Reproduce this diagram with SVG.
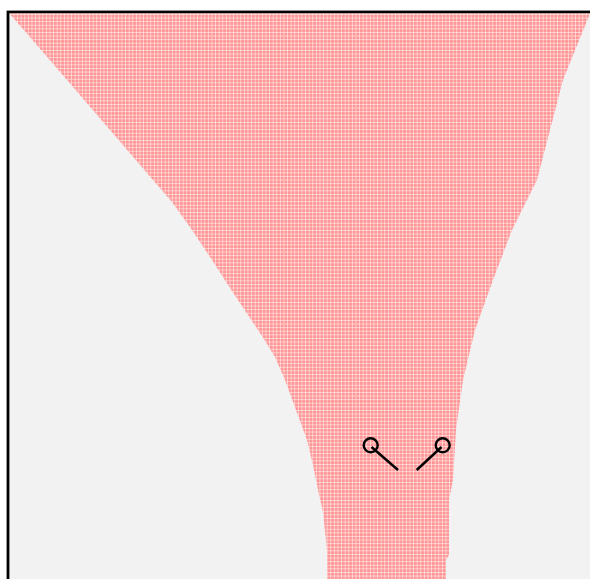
<svg xmlns="http://www.w3.org/2000/svg" width="590" height="579" viewBox="0 0 590 579">
  <defs>
    <pattern id="grid" x="0" y="0.5" width="3.6" height="3.6" patternUnits="userSpaceOnUse">
      <rect width="3.6" height="3.6" fill="#ff9595"/>
      <rect x="2.9" y="0" width="0.7" height="3.6" fill="#ffffff" fill-opacity="0.7"/>
      <rect x="0" y="2.9" width="3.6" height="0.7" fill="#ffffff" fill-opacity="0.7"/>
    </pattern>
    <style>
      .probe { fill: none; stroke: #000; stroke-width: 2.4; }
    </style>
  </defs>
  <rect x="0" y="0" width="590" height="579" fill="#ffffff"/>
  <rect x="8" y="12" width="600" height="600" fill="#f2f2f2" stroke="#000" stroke-width="2.8"/>
  <g id="funnel">
    <path d="M9.5,13.5 L67,80 L110,130 L153,180 L172,202 L192,230 L212,260 L230,288 L246,312 L262,336 L275,357 L285,380 L296,410 L307,440 L313,465 L318,490 L323,512 L327,550 L327,579 L446,579 L446,560 L449,555 L449,500 L453,480 L456,430 L463,380 L475,330 L493,280 L512,230 L537,180 L550,130 L563,80 L590,13.5 Z" fill="url(#grid)"/>
  </g>
  <g id="probes">
    <circle class="probe" cx="370.7" cy="445.3" r="7"/>
    <circle class="probe" cx="442.7" cy="445.3" r="7"/>
    <line class="probe" x1="371.5" y1="447" x2="398" y2="470"/>
    <line class="probe" x1="441.5" y1="447" x2="416.7" y2="470"/>
  </g>
</svg>
